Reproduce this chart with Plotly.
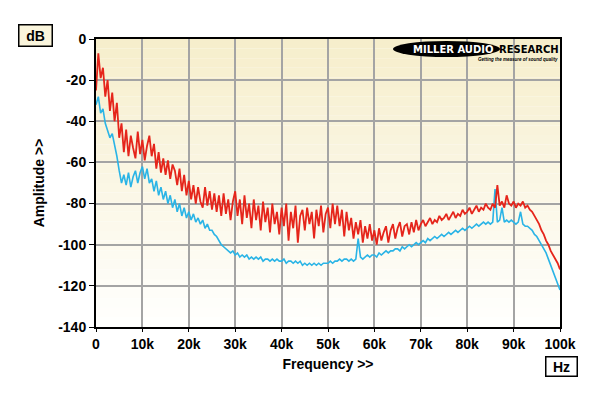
import plotly.graph_objects as go

# Frequency grid (0.5 kHz steps), values in dB
freq_hz = [i * 500 for i in range(201)]

red_db = [
    -25, -7, -19, -14, -28, -20, -35, -26, -40, -31,
    -48, -41, -55, -44, -57, -47, -53, -58, -45, -56,
    -49, -59, -52, -47, -57, -51, -63, -55, -65, -58,
    -66, -59, -68, -61, -64, -71, -63, -74, -66, -76,
    -69, -78, -71, -80, -72, -79, -82, -72, -81, -74,
    -83, -75, -84, -76, -86, -75, -85, -78, -88, -79,
    -74, -86, -78, -90, -76, -87, -80, -92, -78, -88,
    -81, -93, -79, -89, -82, -94, -80, -90, -84, -95,
    -82, -91, -80, -98, -84, -92, -81, -99, -86, -83,
    -93, -82, -90, -84, -97, -83, -91, -81, -94, -85,
    -82, -92, -80, -90, -81, -91, -83, -96, -84, -93,
    -87, -97, -89, -95, -88, -99, -91, -97, -90, -98,
    -93, -100, -92, -98, -94, -91, -99, -93, -90, -97,
    -92, -89, -96, -91, -90, -95, -89, -94, -88, -93,
    -90, -88, -91, -89, -87, -90, -88, -89, -86, -88,
    -87, -85, -88, -86, -84, -87, -85, -86, -83, -85,
    -84, -82, -85, -83, -81, -84, -82, -83, -80, -82,
    -83, -80, -82, -71, -81, -79, -82, -76, -80, -81,
    -79, -82, -80, -81, -79, -82, -81, -83, -84, -86,
    -88, -90, -93, -95, -98, -100, -103, -105, -107, -109, -112,
]

cyan_db = [
    -32, -28, -36, -34, -41, -45, -48, -46, -51, -57,
    -64, -70, -66, -71, -65, -72, -67, -64, -70, -65,
    -62, -68, -63, -70, -68, -74, -69, -76, -72, -78,
    -74, -80, -76, -82, -78, -84, -80, -86, -82, -87,
    -84, -88, -85, -89, -87, -90, -88, -92, -90, -93,
    -93, -95, -96, -98, -100, -101, -102, -103, -104, -103,
    -105, -104, -106, -105, -106, -105, -107, -106, -107, -106,
    -107, -106, -108, -107, -107, -108, -107, -108, -107, -108,
    -108, -107, -109, -108, -108, -109, -108, -109, -108, -110,
    -109, -110, -109, -110, -109, -110, -109, -110, -109, -109,
    -109, -108, -109, -108, -108, -107, -108, -107, -107, -108,
    -107, -108, -107, -97, -106, -107, -106, -105, -106, -105,
    -105, -106, -104, -105, -104, -103, -104, -103, -103, -102,
    -102, -103, -101, -102, -101, -100, -101, -100, -99, -100,
    -99, -98, -99, -97, -98, -97, -96, -97, -96, -95,
    -96, -95, -94, -95, -94, -93, -94, -93, -92, -93,
    -92, -91, -92, -91, -90, -91, -90, -89, -90, -89,
    -90, -89, -73, -89, -88, -82, -89, -88, -89, -88,
    -89, -90, -89, -84, -90, -91, -91, -92, -93, -95,
    -96, -98, -100, -102, -104, -107, -110, -113, -116, -119, -122,
]

x_tickvals = [0, 10000, 20000, 30000, 40000, 50000, 60000, 70000, 80000, 90000, 100000]
x_ticktext = ["0", "10k", "20k", "30k", "40k", "50k", "60k", "70k", "80k", "90k", "100k"]
y_tickvals = [0, -20, -40, -60, -80, -100, -120, -140]
y_ticktext = ["0", "-20", "-40", "-60", "-80", "-100", "-120", "-140"]

FONT = "Liberation Sans, Arial, sans-serif"
L, R, T, B = 96, 560, 39, 327  # plot area in pixels


def px(x):
    return (x - L) / (R - L)


def py(y):
    return (B - y) / (B - T)


fig = go.Figure()

fig.add_trace(go.Scatter(x=freq_hz, y=cyan_db, mode="lines",
                         line=dict(color="#2AB4E6", width=1.6), showlegend=False))
fig.add_trace(go.Scatter(x=freq_hz, y=red_db, mode="lines",
                         line=dict(color="#E5251B", width=1.8), showlegend=False))

# background gradient stripes (cream at top to white at bottom)
shapes = []
n = 30
top = (246, 238, 204)
bot = (255, 255, 253)
for k in range(n):
    t = k / (n - 1)
    c = tuple(int(round(top[j] + (bot[j] - top[j]) * t)) for j in range(3))
    shapes.append(dict(type="rect", xref="x domain", yref="y domain",
                       x0=0, x1=1, y0=1 - (k + 1) / n, y1=1 - k / n,
                       fillcolor="rgb(%d,%d,%d)" % c, line=dict(width=0), layer="below"))

# logo ellipse
shapes.append(dict(type="circle", xref="paper", yref="paper",
                   x0=px(393), x1=px(500), y0=py(57), y1=py(41),
                   fillcolor="black", line=dict(width=0), layer="above"))

fig.update_layout(
    width=600, height=396,
    margin=dict(l=L, r=600 - R, t=T, b=396 - B),
    paper_bgcolor="white",
    plot_bgcolor="white",
    shapes=shapes,
    xaxis=dict(range=[0, 100000], tickvals=x_tickvals, ticktext=x_ticktext,
               showgrid=True, gridcolor="#A4A4A4", gridwidth=1.5,
               showline=True, linecolor="black", linewidth=2, mirror=True,
               ticks="outside", ticklen=3, tickcolor="black",
               tickfont=dict(family=FONT, size=14, color="black", weight="bold"),
               zeroline=False,
               title=dict(text="Frequency >>", standoff=8,
                          font=dict(family=FONT, size=14, color="black", weight="bold"))),
    yaxis=dict(range=[-140, 0], tickvals=y_tickvals, ticktext=y_ticktext,
               showgrid=True, gridcolor="#A4A4A4", gridwidth=1.5,
               showline=True, linecolor="black", linewidth=2, mirror=True,
               ticks="outside", ticklen=5, tickcolor="black",
               tickfont=dict(family=FONT, size=14, color="black", weight="bold"),
               zeroline=False,
               title=dict(text="Amplitude >>", standoff=10,
                          font=dict(family=FONT, size=14, color="black", weight="bold"))),
    annotations=[
        dict(text="dB", xref="paper", yref="paper", x=px(35.5), y=py(36),
             showarrow=False, font=dict(family=FONT, size=14, color="black", weight="bold"),
             bgcolor="#FAF5DC", bordercolor="black", borderwidth=1.5, borderpad=0,
             width=32, height=20, xanchor="center", yanchor="middle"),
        dict(text="Hz", xref="paper", yref="paper", x=px(561.5), y=py(366.5),
             showarrow=False, font=dict(family=FONT, size=14, color="black", weight="bold"),
             bgcolor="white", bordercolor="black", borderwidth=1.5, borderpad=0,
             width=30, height=18, xanchor="center", yanchor="middle"),
        dict(text="MILLER AUDIO", xref="paper", yref="paper", x=px(496), y=py(49),
             showarrow=False, font=dict(family="DejaVu Sans", size=10, color="white", weight="bold"),
             xanchor="right", yanchor="middle"),
        dict(text="RESEARCH", xref="paper", yref="paper", x=px(497), y=py(49),
             showarrow=False, font=dict(family="DejaVu Sans", size=10, color="black", weight="bold"),
             xanchor="left", yanchor="middle"),
        dict(text="<i>Getting the measure of sound quality</i>", xref="paper", yref="paper",
             x=px(560), y=py(60),
             showarrow=False, font=dict(family=FONT, size=4.5, color="black", weight="bold"),
             xanchor="right", yanchor="middle"),
    ],
)

fig.write_html("out.html", config={"displayModeBar": False},
               post_script="document.body.style.margin='0';")
